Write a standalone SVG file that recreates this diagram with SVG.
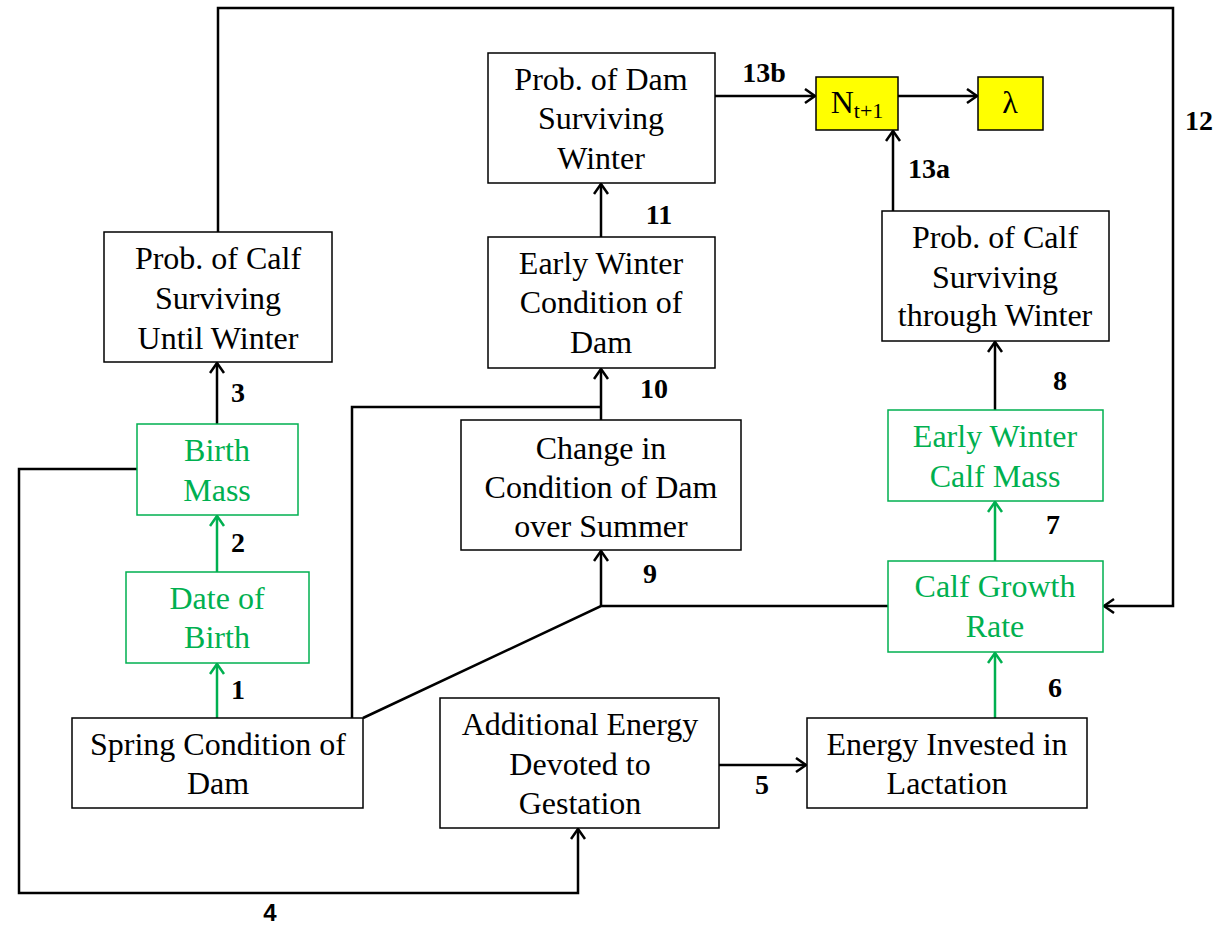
<svg xmlns="http://www.w3.org/2000/svg" width="1216" height="926" viewBox="0 0 1216 926">
<style>
.box{fill:#fff;stroke:#000;stroke-width:1.5}
.gbox{fill:#fff;stroke:#00B050;stroke-width:1.5}
.ybox{fill:#FFFF00;stroke:#000;stroke-width:1.5}
.t{font-family:"Liberation Serif","Times New Roman",serif;font-size:32px;text-anchor:middle;fill:#000}
.g{fill:#00B050}
.c{fill:none;stroke:#000;stroke-width:2.5}
.cg{fill:none;stroke:#00B050;stroke-width:2.5}
.lb{font-family:"Liberation Serif","Times New Roman",serif;font-size:28px;font-weight:bold;text-anchor:middle;fill:#000}
.lbs{font-family:"Liberation Sans",Arial,sans-serif;font-size:24px;font-weight:bold;text-anchor:middle;fill:#000}
</style>
<defs>
<marker id="ah" markerUnits="userSpaceOnUse" markerWidth="14" markerHeight="18" refX="11" refY="8" orient="auto"><path d="M1,1 L11,8 L1,15" fill="none" stroke="#000" stroke-width="2.5"/></marker>
<marker id="ahg" markerUnits="userSpaceOnUse" markerWidth="14" markerHeight="18" refX="11" refY="8" orient="auto"><path d="M1,1 L11,8 L1,15" fill="none" stroke="#00B050" stroke-width="2.5"/></marker>
</defs>
<g id="connectors">
<path class="cg" d="M217,718 V664" marker-end="url(#ahg)"/>
<path class="cg" d="M217,572 V516" marker-end="url(#ahg)"/>
<path class="c" d="M217,424 V363" marker-end="url(#ah)"/>
<path class="c" d="M137,469 H19 V893 H578 V829" marker-end="url(#ah)"/>
<path class="c" d="M719,765 H806" marker-end="url(#ah)"/>
<path class="cg" d="M995,718 V653" marker-end="url(#ahg)"/>
<path class="cg" d="M995,561 V502" marker-end="url(#ahg)"/>
<path class="c" d="M995,410 V342" marker-end="url(#ah)"/>
<path class="c" d="M352,718 V407 H601"/>
<path class="c" d="M601,420 V369" marker-end="url(#ah)"/>
<path class="c" d="M363,718 L601,606 H888"/>
<path class="c" d="M601,606 V551" marker-end="url(#ah)"/>
<path class="c" d="M601,237 V184" marker-end="url(#ah)"/>
<path class="c" d="M218,232 V8 H1173 V606 H1104" marker-end="url(#ah)"/>
<path class="c" d="M893,211 V131" marker-end="url(#ah)"/>
<path class="c" d="M715,96 H815" marker-end="url(#ah)"/>
<path class="c" d="M898,96 H977" marker-end="url(#ah)"/>
<text class="lb g" x="238" y="699">1</text>
<text class="lb g" x="238" y="552">2</text>
<text class="lb" x="238" y="402">3</text>
<text class="lbs" x="270" y="921">4</text>
<text class="lb" x="762" y="794">5</text>
<text class="lb g" x="1055" y="697">6</text>
<text class="lb g" x="1053" y="534">7</text>
<text class="lb" x="1060" y="390">8</text>
<text class="lb" x="650" y="583">9</text>
<text class="lb" x="654" y="398">10</text>
<text class="lb" x="659" y="224">11</text>
<text class="lb" x="1199" y="130">12</text>
<text class="lb" x="929" y="178">13a</text>
<text class="lb" x="764" y="82">13b</text>
</g>
<g id="calf-surv-until-winter">
<rect class="box" x="104" y="232" width="228" height="130"/>
<text class="t" x="218" y="269">Prob. of Calf</text>
<text class="t" x="218" y="309">Surviving</text>
<text class="t" x="218" y="349">Until Winter</text>
</g>
<g id="birth-mass">
<rect class="gbox" x="137" y="424" width="161" height="91"/>
<text class="t g" x="217" y="461">Birth</text>
<text class="t g" x="217" y="501">Mass</text>
</g>
<g id="date-of-birth">
<rect class="gbox" x="126" y="572" width="183" height="91"/>
<text class="t g" x="217" y="609">Date of</text>
<text class="t g" x="217" y="648">Birth</text>
</g>
<g id="spring-condition">
<rect class="box" x="72" y="718" width="291" height="90"/>
<text class="t" x="218" y="755">Spring Condition of</text>
<text class="t" x="218" y="794">Dam</text>
</g>
<g id="gestation-energy">
<rect class="box" x="440" y="698" width="279" height="130"/>
<text class="t" x="580" y="735">Additional Energy</text>
<text class="t" x="580" y="775">Devoted to</text>
<text class="t" x="580" y="814">Gestation</text>
</g>
<g id="lactation-energy">
<rect class="box" x="807" y="718" width="280" height="90"/>
<text class="t" x="947" y="755">Energy Invested in</text>
<text class="t" x="947" y="794">Lactation</text>
</g>
<g id="calf-growth">
<rect class="gbox" x="888" y="561" width="215" height="91"/>
<text class="t g" x="995" y="597">Calf Growth</text>
<text class="t g" x="995" y="637">Rate</text>
</g>
<g id="winter-calf-mass">
<rect class="gbox" x="888" y="410" width="215" height="91"/>
<text class="t g" x="995" y="447">Early Winter</text>
<text class="t g" x="995" y="487">Calf Mass</text>
</g>
<g id="calf-surv-winter">
<rect class="box" x="882" y="211" width="227" height="130"/>
<text class="t" x="995" y="248">Prob. of Calf</text>
<text class="t" x="995" y="288">Surviving</text>
<text class="t" x="995" y="326">through Winter</text>
</g>
<g id="dam-summer-change">
<rect class="box" x="461" y="420" width="280" height="130"/>
<text class="t" x="601" y="459">Change in</text>
<text class="t" x="601" y="498">Condition of Dam</text>
<text class="t" x="601" y="537">over Summer</text>
</g>
<g id="dam-winter-condition">
<rect class="box" x="488" y="237" width="227" height="131"/>
<text class="t" x="601" y="274">Early Winter</text>
<text class="t" x="601" y="313">Condition of</text>
<text class="t" x="601" y="353">Dam</text>
</g>
<g id="dam-surv-winter">
<rect class="box" x="488" y="53" width="227" height="130"/>
<text class="t" x="601" y="90">Prob. of Dam</text>
<text class="t" x="601" y="129">Surviving</text>
<text class="t" x="601" y="169">Winter</text>
</g>
<g id="n-next">
<rect class="ybox" x="816" y="77" width="82" height="53"/>
<text class="t" x="857" y="113">N<tspan font-size="22" dy="5">t+1</tspan></text>
</g>
<g id="lambda">
<rect class="ybox" x="978" y="77" width="65" height="53"/>
<text class="t" x="1010" y="113">λ</text>
</g>
</svg>
